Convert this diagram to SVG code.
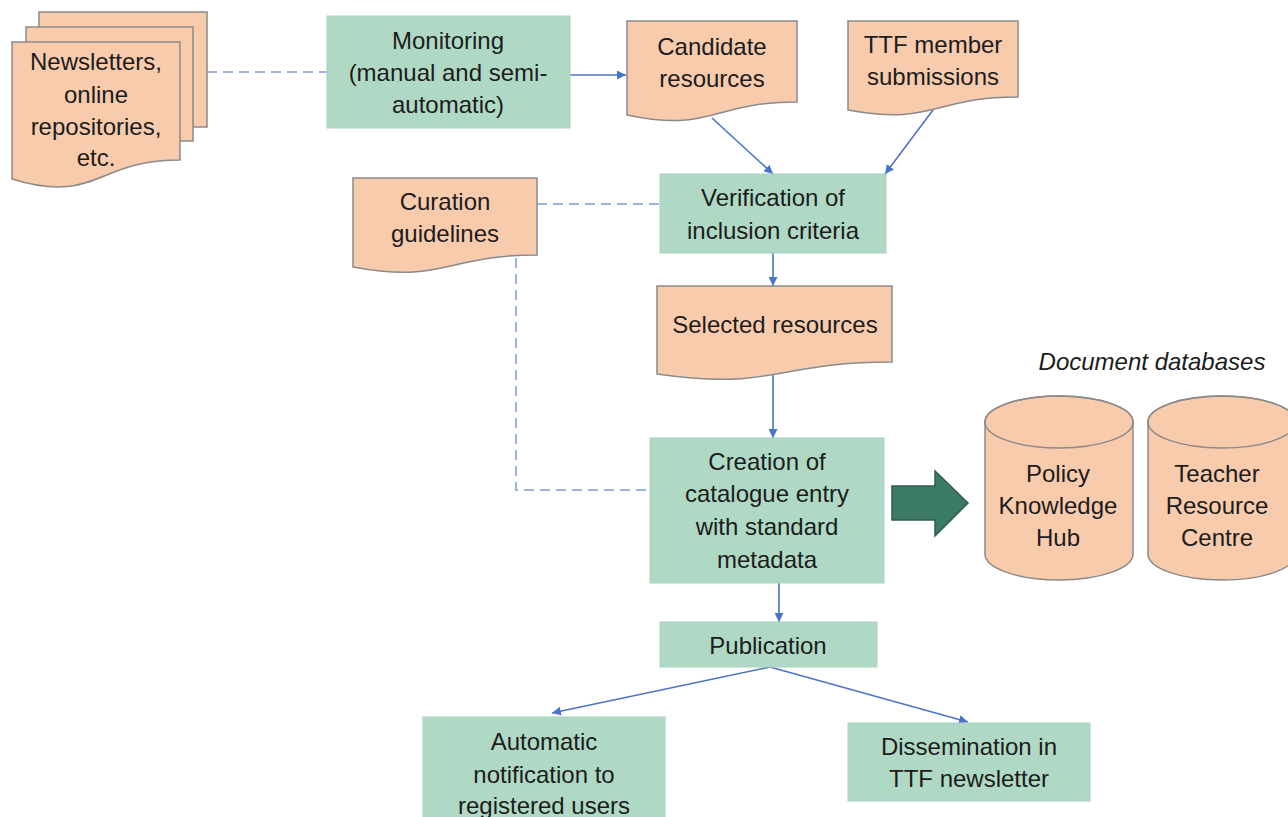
<svg xmlns="http://www.w3.org/2000/svg" width="1288" height="817" viewBox="0 0 1288 817">
<defs>
<style>
.doc{fill:#f8cbad;stroke:#8a8a8a;stroke-width:1.5}
.box{fill:#b0d9c5;stroke:#a6d3bd;stroke-width:1}
.t{font-family:"Liberation Sans",Arial,sans-serif;font-size:24px;fill:#1c1c1c;text-anchor:middle}
.it{font-style:italic;font-size:24px}
.ln{stroke:#4a74c6;stroke-width:1.6;fill:none}
.dash{stroke:#9fb5e3;stroke-width:2.2;stroke-dasharray:10 6;fill:none}
</style>
<marker id="ah" viewBox="0 0 10 10" refX="10" refY="5" markerWidth="9" markerHeight="9" markerUnits="userSpaceOnUse" orient="auto">
<path d="M0,0 L10,5 L0,10 Z" fill="#4a74c6"/>
</marker>
</defs>
<rect width="1288" height="817" fill="#ffffff"/>

<g id="connectors">
<path class="dash" d="M207,72 L327,72"/>
<path class="dash" d="M537,204 L660,204"/>
<path class="dash" d="M516,258 L516,490 L650,490"/>
<path class="ln" d="M570,75 L626,75" marker-end="url(#ah)"/>
<path class="ln" d="M712,118 L773,174" marker-end="url(#ah)"/>
<path class="ln" d="M933,110 L885,174" marker-end="url(#ah)"/>
<path class="ln" d="M773,253 L773,286" marker-end="url(#ah)"/>
<path class="ln" d="M773,373 L773,438" marker-end="url(#ah)"/>
<path class="ln" d="M779,583 L779,622" marker-end="url(#ah)"/>
<path class="ln" d="M770,667 L552,713" marker-end="url(#ah)"/>
<path class="ln" d="M770,667 L968,722" marker-end="url(#ah)"/>
<path d="M892,486 L935,486 L935,471 L968,503 L935,536 L935,520 L892,520 Z" fill="#3b7b63" stroke="#2e5f4c" stroke-width="1.5"/>
</g>

<g id="newsletters">
<rect class="doc" x="39" y="12" width="168" height="115"/>
<rect class="doc" x="26" y="27" width="167" height="114"/>
<path class="doc" d="M12,42 L180,42 L180,160 C96,160 96,205 12,179 Z"/>
<text class="t" x="96" y="70">Newsletters,</text>
<text class="t" x="96" y="103">online</text>
<text class="t" x="96" y="135">repositories,</text>
<text class="t" x="96" y="166">etc.</text>
</g>

<g id="monitoring">
<rect class="box" x="327" y="16" width="243" height="112"/>
<text class="t" x="448" y="49">Monitoring</text>
<text class="t" x="448" y="81">(manual and semi-</text>
<text class="t" x="448" y="113">automatic)</text>
</g>

<g id="candidate">
<path class="doc" d="M627,21 L797,21 L797,102 C712,102 712,133 627,115 Z"/>
<text class="t" x="712" y="55">Candidate</text>
<text class="t" x="712" y="87">resources</text>
</g>

<g id="ttf-submissions">
<path class="doc" d="M848,21 L1018,21 L1018,97 C933,97 933,126 848,110 Z"/>
<text class="t" x="933" y="53">TTF member</text>
<text class="t" x="933" y="85">submissions</text>
</g>

<g id="curation">
<path class="doc" d="M353,178 L537,178 L537,255 C445,255 445,284 353,267 Z"/>
<text class="t" x="445" y="210">Curation</text>
<text class="t" x="445" y="242">guidelines</text>
</g>

<g id="verification">
<rect class="box" x="660" y="174" width="226" height="79"/>
<text class="t" x="773" y="206">Verification of</text>
<text class="t" x="773" y="239">inclusion criteria</text>
</g>

<g id="selected">
<path class="doc" d="M657,286 L892,286 L892,362 C775,362 775,391 657,374 Z"/>
<text class="t" x="775" y="333">Selected resources</text>
</g>

<g id="creation">
<rect class="box" x="650" y="438" width="234" height="145"/>
<text class="t" x="767" y="470">Creation of</text>
<text class="t" x="767" y="502">catalogue entry</text>
<text class="t" x="767" y="535">with standard</text>
<text class="t" x="767" y="568">metadata</text>
</g>

<g id="db-label">
<text class="t it" x="1152" y="370">Document databases</text>
</g>

<g id="policy-hub">
<path class="doc" d="M985,422 L985,554 A74,26 0 0 0 1133,554 L1133,422 A74,26 0 0 0 985,422 Z"/>
<ellipse cx="1059" cy="422" rx="74" ry="26" fill="none" stroke="#8a8a8a" stroke-width="1.5"/>
<text class="t" x="1058" y="482">Policy</text>
<text class="t" x="1058" y="514">Knowledge</text>
<text class="t" x="1058" y="546">Hub</text>
</g>

<g id="teacher-centre">
<path class="doc" d="M1148,422 L1148,554 A74,26 0 0 0 1296,554 L1296,422 A74,26 0 0 0 1148,422 Z"/>
<ellipse cx="1222" cy="422" rx="74" ry="26" fill="none" stroke="#8a8a8a" stroke-width="1.5"/>
<text class="t" x="1217" y="482">Teacher</text>
<text class="t" x="1217" y="514">Resource</text>
<text class="t" x="1217" y="546">Centre</text>
</g>

<g id="publication">
<rect class="box" x="660" y="622" width="217" height="45"/>
<text class="t" x="768" y="654">Publication</text>
</g>

<g id="notification">
<rect class="box" x="423" y="717" width="242" height="110"/>
<text class="t" x="544" y="750">Automatic</text>
<text class="t" x="544" y="783">notification to</text>
<text class="t" x="544" y="814">registered users</text>
</g>

<g id="dissemination">
<rect class="box" x="848" y="723" width="242" height="78"/>
<text class="t" x="969" y="755">Dissemination in</text>
<text class="t" x="969" y="787">TTF newsletter</text>
</g>
</svg>
